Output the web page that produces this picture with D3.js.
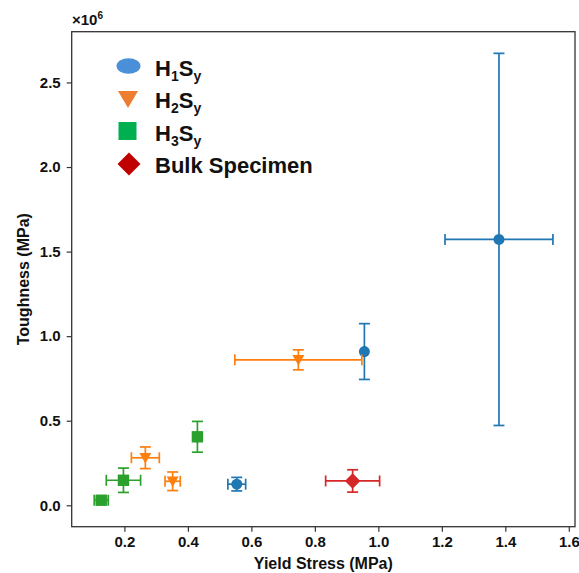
<!DOCTYPE html>
<html><head><meta charset="utf-8">
<script src="https://cdn.jsdelivr.net/npm/d3@7"></script>
<style>
body{margin:0;background:#fff;}
text{font-family:"Liberation Sans",Arial,Helvetica,sans-serif;font-weight:bold;fill:#111;}
</style></head>
<body><svg id="c" width="579" height="573"></svg>
<script>
// Data (toughness in MPa, x in MPa)
const seriesNames = ["H1Sy", "H2Sy", "H3Sy", "Bulk Specimen"];
const seriesColors = ["#1f77b4", "#ff7f0e", "#2ca02c", "#d62728"];
const legendColors = ["#4a90d9", "#ed7d31", "#00b050", "#c00000"];
const h1X = [0.554, 0.956, 1.380];
const h1Y = [0.125e6, 0.909e6, 1.572e6];
const h1XErr = [0.028, 0.0, 0.170];
const h1YErr = [0.040e6, 0.165e6, 1.100e6];
const h2X = [0.266, 0.352, 0.748];
const h2Y = [0.281e6, 0.142e6, 0.860e6];
const h2XErr = [0.044, 0.024, 0.200];
const h2YErr = [0.064e6, 0.055e6, 0.059e6];
const h3X = [0.127, 0.197, 0.430];
const h3Y = [0.030e6, 0.148e6, 0.405e6];
const h3XErr = [0.022, 0.054, 0.0];
const h3YErr = [0.015e6, 0.072e6, 0.091e6];
const bulkX = [0.919];
const bulkY = [0.144e6];
const bulkXErr = [0.085];
const bulkYErr = [0.066e6];
const xTicks = [0.2, 0.4, 0.6, 0.8, 1.0, 1.2, 1.4, 1.6];
const yTicks = [0, 0.5e6, 1.0e6, 1.5e6, 2.0e6, 2.5e6];
const xLabel = "Yield Stress (MPa)";
const yLabel = "Toughness (MPa)";

const L = 71.7, R = 575, T = 31.7, B = 526.7;
const x = d3.scaleLinear().domain([0.034, 1.6195]).range([L, R]);
const y = d3.scaleLinear().domain([-0.1265e6, 2.8e6]).range([B, T]);

const svg = d3.select("#c");

const groups = [
  {x: h1X, y: h1Y, xe: h1XErr, ye: h1YErr, sym: "circle"},
  {x: h2X, y: h2Y, xe: h2XErr, ye: h2YErr, sym: "tri"},
  {x: h3X, y: h3Y, xe: h3XErr, ye: h3YErr, sym: "square"},
  {x: bulkX, y: bulkY, xe: bulkXErr, ye: bulkYErr, sym: "diamond"}
];

function markerPath(sym, s) {
  if (sym === "tri") return `M${-s*1.05},${-s*0.85}L${s*1.05},${-s*0.85}L0,${s*1.0}Z`;
  if (sym === "square") return `M${-s},${-s}H${s}V${s}H${-s}Z`;
  if (sym === "diamond") return `M0,${-s*1.35}L${s*1.35},0L0,${s*1.35}L${-s*1.35},0Z`;
  return null;
}

const plot = svg.append("g");
const cap = 5.5;
const lw = 1.7;
groups.forEach((g, gi) => {
  const col = seriesColors[gi];
  const gg = plot.append("g").attr("stroke", col).attr("fill", col);
  g.x.forEach((xv, i) => {
    const yv = g.y[i], xe = g.xe[i], ye = g.ye[i];
    const px = x(xv), py = y(yv);
    const x0 = x(xv - xe), x1 = x(xv + xe), y0 = y(yv - ye), y1 = y(yv + ye);
    gg.append("line").attr("x1", px).attr("x2", px).attr("y1", y0).attr("y2", y1).attr("stroke-width", lw);
    gg.append("line").attr("x1", x0).attr("x2", x1).attr("y1", py).attr("y2", py).attr("stroke-width", lw);
    [y0, y1].forEach(yy => gg.append("line").attr("x1", px - cap).attr("x2", px + cap).attr("y1", yy).attr("y2", yy).attr("stroke-width", lw));
    [x0, x1].forEach(xx => gg.append("line").attr("x1", xx).attr("x2", xx).attr("y1", py - cap).attr("y2", py + cap).attr("stroke-width", lw));
    if (g.sym === "circle") {
      gg.append("circle").attr("cx", px).attr("cy", py).attr("r", 5.5).attr("stroke", "none");
    } else {
      gg.append("path").attr("d", markerPath(g.sym, 5.7)).attr("transform", `translate(${px},${py})`).attr("stroke", "none");
    }
  });
});

// Axes
const fmt = d3.format(".1f");
const xAxis = svg.append("g").attr("transform", `translate(0,${B})`)
  .call(d3.axisBottom(x).tickValues(xTicks).tickFormat(fmt).tickSize(5).tickPadding(5));
const yAxis = svg.append("g").attr("transform", `translate(${L},0)`)
  .call(d3.axisLeft(y).tickValues(yTicks).tickFormat(d => fmt(d / 1e6)).tickSize(5).tickPadding(6));
[xAxis, yAxis].forEach(a => {
  a.select(".domain").remove();
  a.selectAll(".tick line").attr("stroke", "#333").attr("stroke-width", 1.2);
  a.selectAll(".tick text").style("font-size", "15px").style("font-family", '"Liberation Sans",Arial,sans-serif').style("font-weight", "bold").attr("fill", "#111");
});

// Frame
svg.append("rect").attr("x", L).attr("y", T).attr("width", R - L).attr("height", B - T)
  .attr("fill", "none").attr("stroke", "#333").attr("stroke-width", 1.3);

// Axis labels
svg.append("text").attr("x", (L + R) / 2).attr("y", 569).attr("text-anchor", "middle")
  .style("font-size", "16px").text(xLabel);
svg.append("text").attr("transform", `translate(29,${(T + B) / 2}) rotate(-90)`).attr("text-anchor", "middle")
  .style("font-size", "16px").text(yLabel);

// Offset text
const off = svg.append("text").attr("x", 72).attr("y", 25).style("font-size", "15px");
off.append("tspan").text("×10");
off.append("tspan").attr("dy", -6).style("font-size", "10px").text("6");

// Legend
const legY = [66, 99, 131, 164];
const legBase = [75.5, 108, 140.5, 173];
const leg = svg.append("g");
leg.append("ellipse").attr("cx", 128.5).attr("cy", legY[0]).attr("rx", 12).attr("ry", 7.8).attr("fill", legendColors[0]);
leg.append("path").attr("d", `M118,${legY[1]-8}L138,${legY[1]-8}L128,${legY[1]+9}Z`).attr("fill", legendColors[1]);
leg.append("rect").attr("x", 118.5).attr("y", legY[2] - 9).attr("width", 18).attr("height", 18).attr("fill", legendColors[2]);
leg.append("path").attr("d", `M129,${legY[3]-11.5}L140.5,${legY[3]}L129,${legY[3]+11.5}L117.5,${legY[3]}Z`).attr("fill", legendColors[3]);

const subs = [["H", "1", "S", "y"], ["H", "2", "S", "y"], ["H", "3", "S", "y"]];
subs.forEach((p, i) => {
  const t = leg.append("text").attr("x", 155).attr("y", legBase[i]).style("font-size", "22px");
  t.append("tspan").text(p[0]);
  t.append("tspan").attr("dy", 5).style("font-size", "14px").text(p[1]);
  t.append("tspan").attr("dy", -5).text(p[2]);
  t.append("tspan").attr("dy", 5).style("font-size", "14px").text(p[3]);
});
leg.append("text").attr("x", 155).attr("y", legBase[3]).style("font-size", "22px").text(seriesNames[3]);
</script></body></html>
